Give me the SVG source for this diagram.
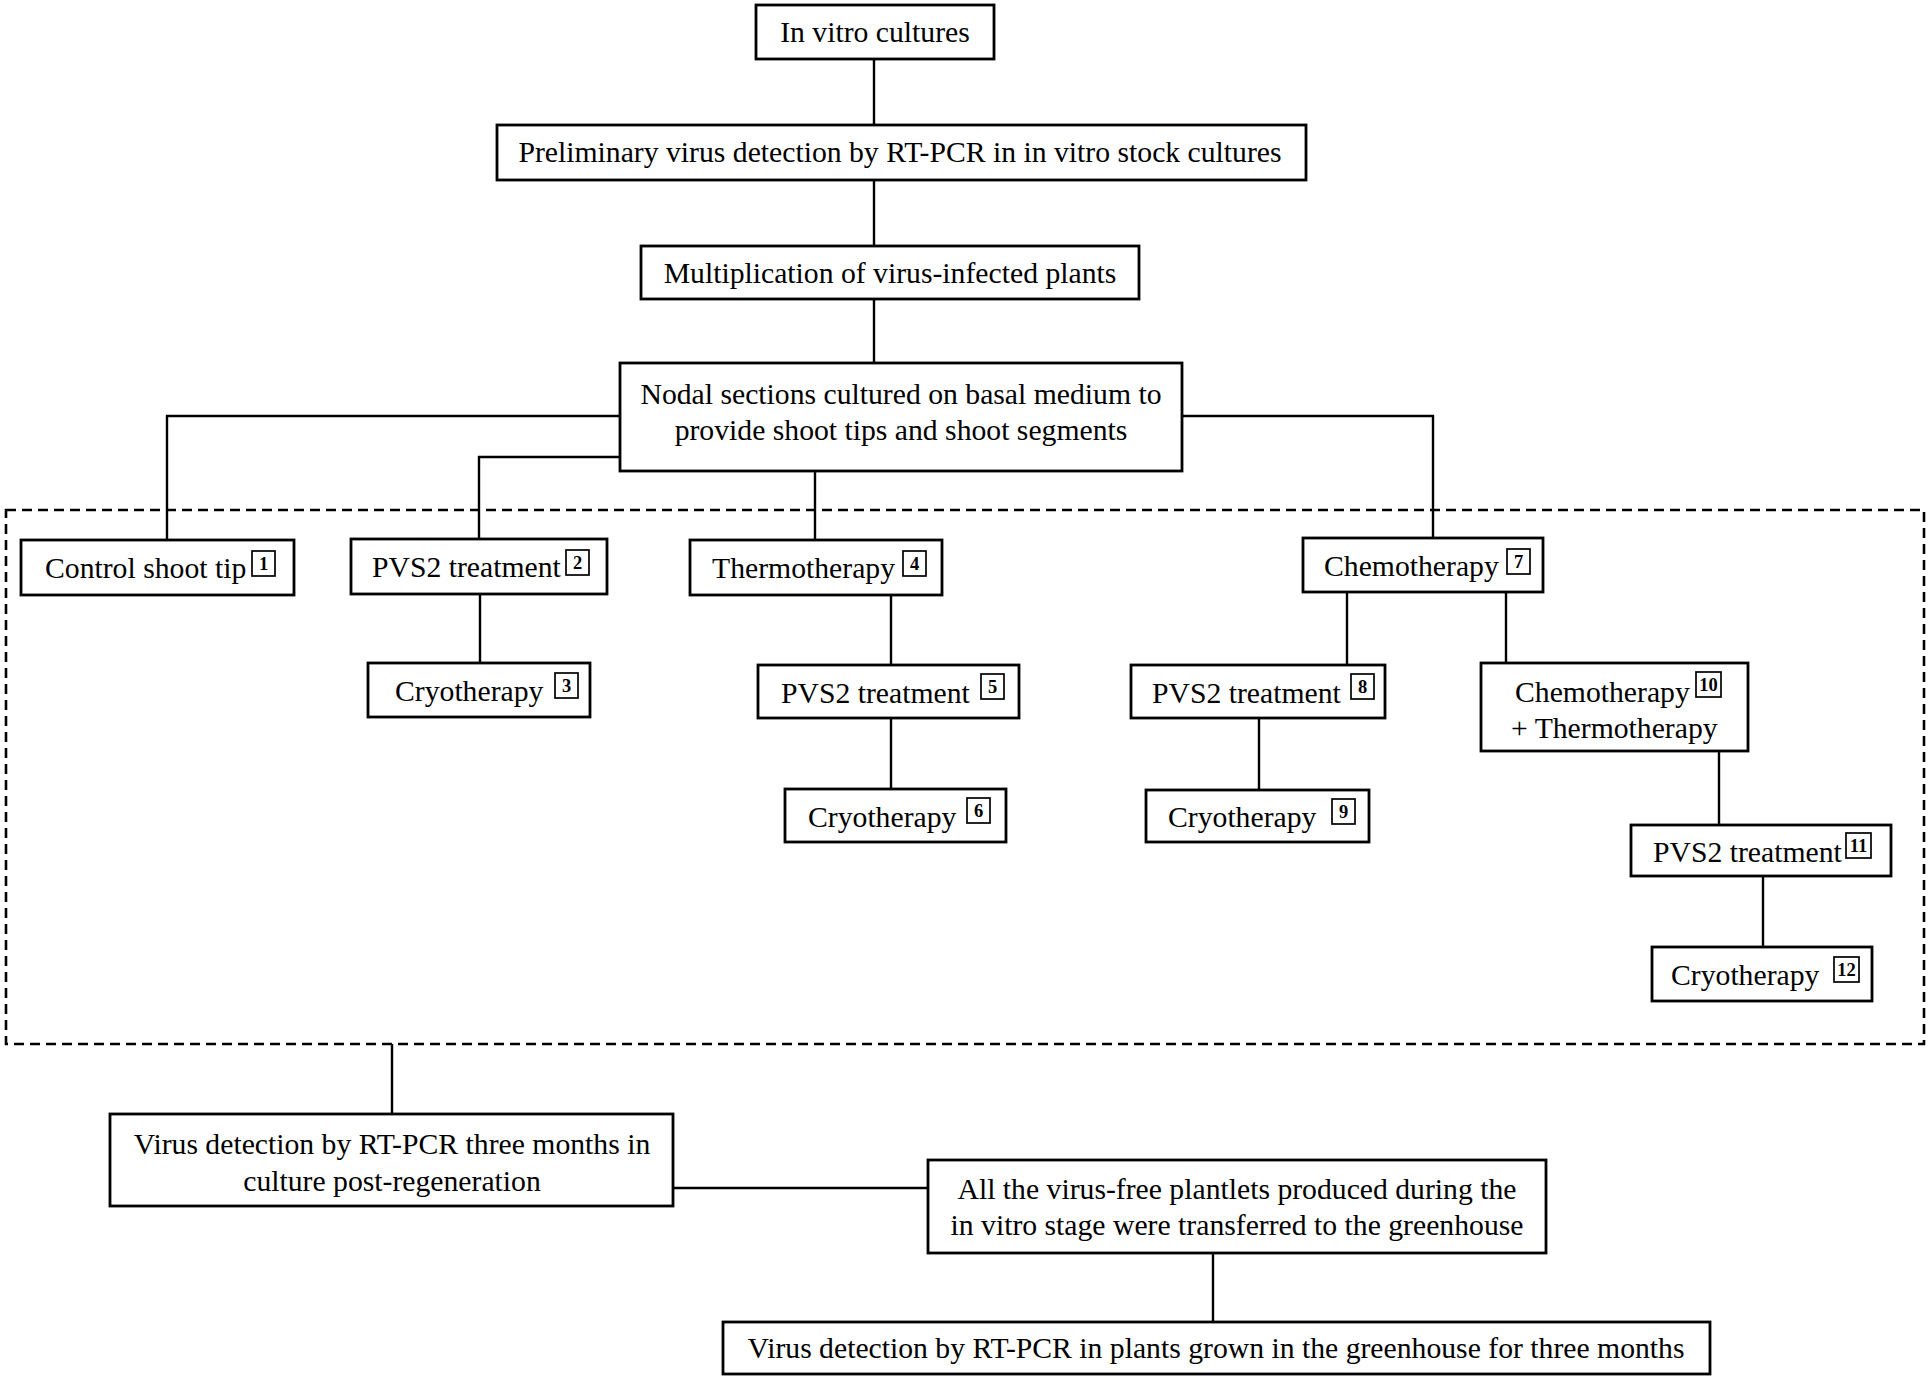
<svg xmlns="http://www.w3.org/2000/svg" width="1931" height="1380" viewBox="0 0 1931 1380">
<style>
.box{fill:#fff;stroke:#000;stroke-width:2.8}
.t{font-family:"Liberation Serif","Times New Roman",serif;font-size:29.7px;fill:#000}
.m{text-anchor:middle}
.bd{fill:#fff;stroke:#000;stroke-width:1.7}
.bn{font-family:"Liberation Serif","Times New Roman",serif;font-size:18.5px;font-weight:bold;text-anchor:middle;fill:#000}
.ln{fill:none;stroke:#000;stroke-width:2.4}
.dash{fill:none;stroke:#000;stroke-width:2.6;stroke-dasharray:10 6}
</style>
<rect width="1931" height="1380" fill="#fff"/>
<rect class="dash" x="6" y="510" width="1918" height="534"/>
<g id="connectors">
<path class="ln" d="M874 59V125M874 180V246M874 299V363"/>
<path class="ln" d="M620 416H167V540M620 457H479V539M815 471V540M1182 416H1433V538"/>
<path class="ln" d="M480 594V663M891 595V665M891 718V789M1347 592V665M1506 592V663M1259 718V790M1719 751V825M1763 876V947"/>
<path class="ln" d="M392 1044V1114M673 1188H928M1213 1253V1322"/>
</g>
<g id="n1"><rect class="box" x="756" y="5" width="238" height="54"/><text class="t m" x="875" y="42">In vitro cultures</text></g>
<g id="n2"><rect class="box" x="497" y="125" width="809" height="55"/><text class="t m" x="900" y="162">Preliminary virus detection by RT-PCR in in vitro stock cultures</text></g>
<g id="n3"><rect class="box" x="641" y="246" width="498" height="53"/><text class="t m" x="890" y="283">Multiplication of virus-infected plants</text></g>
<g id="n4"><rect class="box" x="620" y="363" width="562" height="108"/><text class="t m" x="901" y="404">Nodal sections cultured on basal medium to</text><text class="t m" x="901" y="440">provide shoot tips and shoot segments</text></g>
<g id="b1"><rect class="box" x="21" y="540" width="273" height="55"/><text class="t" x="45" y="578">Control shoot tip</text><rect class="bd" x="252" y="551" width="23" height="25"/><text class="bn" x="263.5" y="570">1</text></g>
<g id="b2"><rect class="box" x="351" y="539" width="256" height="55"/><text class="t" x="372" y="577">PVS2 treatment</text><rect class="bd" x="566" y="550" width="23" height="25"/><text class="bn" x="577.5" y="569">2</text></g>
<g id="b3"><rect class="box" x="368" y="663" width="222" height="54"/><text class="t" x="395" y="701">Cryotherapy</text><rect class="bd" x="555" y="673" width="23" height="25"/><text class="bn" x="566.5" y="692">3</text></g>
<g id="b4"><rect class="box" x="690" y="540" width="252" height="55"/><text class="t" x="712" y="578">Thermotherapy</text><rect class="bd" x="903" y="551" width="23" height="25"/><text class="bn" x="914.5" y="570">4</text></g>
<g id="b5"><rect class="box" x="758" y="665" width="261" height="53"/><text class="t" x="781" y="703">PVS2 treatment</text><rect class="bd" x="981" y="674" width="23" height="25"/><text class="bn" x="992.5" y="693">5</text></g>
<g id="b6"><rect class="box" x="785" y="789" width="221" height="53"/><text class="t" x="808" y="827">Cryotherapy</text><rect class="bd" x="967" y="798" width="23" height="25"/><text class="bn" x="978.5" y="817">6</text></g>
<g id="b7"><rect class="box" x="1303" y="538" width="240" height="54"/><text class="t" x="1324" y="576">Chemotherapy</text><rect class="bd" x="1507" y="549" width="23" height="25"/><text class="bn" x="1518.5" y="568">7</text></g>
<g id="b8"><rect class="box" x="1131" y="665" width="254" height="53"/><text class="t" x="1152" y="703">PVS2 treatment</text><rect class="bd" x="1351" y="674" width="23" height="25"/><text class="bn" x="1362.5" y="693">8</text></g>
<g id="b9"><rect class="box" x="1146" y="790" width="223" height="52"/><text class="t" x="1168" y="827">Cryotherapy</text><rect class="bd" x="1332" y="799" width="23" height="25"/><text class="bn" x="1343.5" y="818">9</text></g>
<g id="b10"><rect class="box" x="1481" y="663" width="267" height="88"/><text class="t" x="1515" y="702">Chemotherapy</text><rect class="bd" x="1696" y="672" width="25" height="25"/><text class="bn" x="1708.5" y="691">10</text><text class="t" x="1511" y="738">+ Thermotherapy</text></g>
<g id="b11"><rect class="box" x="1631" y="825" width="260" height="51"/><text class="t" x="1653" y="862">PVS2 treatment</text><rect class="bd" x="1846" y="833" width="25" height="25"/><text class="bn" x="1858.5" y="852">11</text></g>
<g id="b12"><rect class="box" x="1652" y="947" width="220" height="54"/><text class="t" x="1671" y="985">Cryotherapy</text><rect class="bd" x="1834" y="957" width="25" height="25"/><text class="bn" x="1846.5" y="976">12</text></g>
<g id="n5"><rect class="box" x="110" y="1114" width="563" height="92"/><text class="t m" x="392" y="1154">Virus detection by RT-PCR three months in</text><text class="t m" x="392" y="1191">culture post-regeneration</text></g>
<g id="n6"><rect class="box" x="928" y="1160" width="618" height="93"/><text class="t m" x="1237" y="1199">All the virus-free plantlets produced during the</text><text class="t m" x="1237" y="1235">in vitro stage were transferred to the greenhouse</text></g>
<g id="n7"><rect class="box" x="723" y="1322" width="987" height="52"/><text class="t m" x="1216" y="1358">Virus detection by RT-PCR in plants grown in the greenhouse for three months</text></g>
</svg>
